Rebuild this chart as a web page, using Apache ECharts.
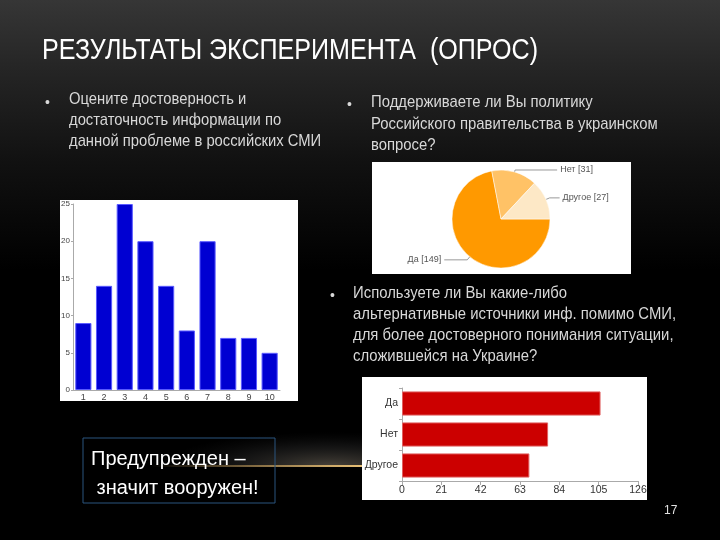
<!DOCTYPE html>
<html><head><meta charset="utf-8">
<script src="https://cdn.jsdelivr.net/npm/echarts@6/dist/echarts.min.js"></script>
<style>html,body{margin:0;padding:0;background:#000}#c{width:720px;height:540px}</style>
</head><body><div id="c"></div>
<script>
// Chart 1: rating 1..10
const ratingCats = ['1','2','3','4','5','6','7','8','9','10'];
const ratingVals = [9, 14, 25, 20, 14, 8, 20, 7, 7, 5];
// Chart 2: pie
const pieNames = ['Да', 'Нет', 'Другое'];
const pieVals = [149, 31, 27];
// Chart 3: horizontal bars
const altCats = ['Да', 'Нет', 'Другое'];
const altVals = [106, 78, 68];
const altTicks = [0, 21, 42, 63, 84, 105, 126];

const SANS = '"Liberation Sans", Arial, sans-serif';

const chart = echarts.init(document.getElementById('c'), null, {renderer: 'canvas'});

function txt(x, y, lines, size, color, lh, sx) {
  return {type: 'text', x: x, y: y, z: 5, scaleX: sx || 1, originX: 0,
    style: {text: lines.join('\n'), fill: color, font: size + 'px ' + SANS, lineHeight: lh, textVerticalAlign: 'top'}};
}

const graphics = [
  {type: 'rect', shape: {x: 0, y: 0, width: 720, height: 540}, z: -10,
   style: {fill: new echarts.graphic.LinearGradient(0, 0, 0, 1, [
     {offset: 0, color: '#363636'}, {offset: 0.12, color: '#262626'}, {offset: 0.3, color: '#111'}, {offset: 0.5, color: '#000'}, {offset: 1, color: '#000'}])}},
  // glow (flattened radial)
  {type: 'circle', shape: {cx: 330, cy: 466, r: 170}, scaleY: 0.2, originX: 330, originY: 466, z: -9,
   style: {fill: new echarts.graphic.RadialGradient(0.5, 0.5, 0.5, [
     {offset: 0, color: 'rgba(120,110,95,0.6)'}, {offset: 0.6, color: 'rgba(70,70,70,0.25)'}, {offset: 1, color: 'rgba(40,40,40,0)'}])}},
  {type: 'rect', shape: {x: 0, y: 467, width: 362, height: 73}, z: -8, style: {fill: '#000'}},
  {type: 'rect', shape: {x: 150, y: 465, width: 215, height: 2}, z: -7,
   style: {fill: new echarts.graphic.LinearGradient(0, 0, 1, 0, [
     {offset: 0, color: 'rgba(200,160,90,0)'}, {offset: 0.5, color: 'rgba(205,165,95,0.6)'}, {offset: 1, color: 'rgba(235,195,120,1)'}])}},
  // white panels
  {type: 'rect', shape: {x: 60, y: 200, width: 238, height: 201}, z: -5, style: {fill: '#fff'}},
  {type: 'rect', shape: {x: 372, y: 162, width: 259, height: 112}, z: -5, style: {fill: '#fff'}},
  {type: 'rect', shape: {x: 362, y: 377, width: 285, height: 123}, z: -5, style: {fill: '#fff'}},
  // title
  txt(42, 35, ['РЕЗУЛЬТАТЫ ЭКСПЕРИМЕНТА  (ОПРОС)'], 29, '#ffffff', 32, 0.865),
  // bullets
  txt(45, 93, ['•'], 14, '#d8d8d8', 21),
  txt(69, 89, ['Оцените достоверность и', 'достаточность информации по', 'данной проблеме в российских СМИ'], 17, '#d8d8d8', 21, 0.87),
  txt(347, 95, ['•'], 14, '#d8d8d8', 21),
  txt(371, 92, ['Поддерживаете ли Вы политику', 'Российского правительства в украинском', 'вопросе?'], 17, '#d8d8d8', 21.5, 0.875),
  txt(330, 286, ['•'], 14, '#d8d8d8', 21),
  txt(353, 283, ['Используете ли Вы какие-либо', 'альтернативные источники инф. помимо СМИ,', 'для более достоверного понимания ситуации,', 'сложившейся на Украине?'], 17, '#d8d8d8', 21, 0.875),
  // box
  {type: 'rect', shape: {x: 83, y: 438, width: 192, height: 65}, z: 4, style: {fill: 'rgba(0,0,0,0)', stroke: '#2b557f', lineWidth: 1}},
  txt(91, 445, ['Предупрежден –', ' значит вооружен!'], 20, '#ffffff', 29),
  txt(664, 504, ['17'], 12, '#e0e0e0', 14)
];

const option = {
  animation: false,
  backgroundColor: '#000',
  graphic: graphics,
  grid: [
    {left: 73, top: 204, width: 207, height: 186, containLabel: false},
    {left: 402, top: 388, width: 236, height: 93, containLabel: false}
  ],
  xAxis: [
    {type: 'category', gridIndex: 0, data: ratingCats,
     axisLine: {lineStyle: {color: '#aaa'}}, axisTick: {show: false},
     axisLabel: {fontSize: 9, color: '#444', margin: 3, fontFamily: SANS}},
    {type: 'value', gridIndex: 1, min: 0, max: 126, interval: 21,
     axisLine: {show: true, lineStyle: {color: '#aaa'}}, axisTick: {show: true, lineStyle: {color: '#aaa'}, length: 4},
     splitLine: {show: false},
     axisLabel: {fontSize: 10.5, color: '#333', margin: 4, fontFamily: SANS,
       formatter: v => altTicks.indexOf(v) >= 0 ? String(v) : ''}}
  ],
  yAxis: [
    {type: 'value', gridIndex: 0, min: 0, max: 25, interval: 5,
     axisLine: {show: true, lineStyle: {color: '#aaa'}}, axisTick: {show: true, length: 2, lineStyle: {color: '#aaa'}},
     splitLine: {show: false},
     axisLabel: {fontSize: 8, color: '#444', margin: 3, fontFamily: SANS}},
    {type: 'category', gridIndex: 1, data: altCats, inverse: true,
     axisLine: {show: true, lineStyle: {color: '#aaa'}}, axisTick: {show: true, lineStyle: {color: '#aaa'}, length: 3},
     axisLabel: {fontSize: 10.5, color: '#333', margin: 4, fontFamily: SANS}}
  ],
  series: [
    {type: 'bar', xAxisIndex: 0, yAxisIndex: 0, data: ratingVals, barCategoryGap: '22%',
     itemStyle: {color: '#0000d2', borderColor: '#5a5aff', borderWidth: 1}},
    {type: 'bar', xAxisIndex: 1, yAxisIndex: 1, data: altVals, barCategoryGap: '22%',
     itemStyle: {color: '#cc0000', borderColor: '#e06060', borderWidth: 1}},
    {type: 'pie', center: [501, 219], radius: 49, startAngle: 0, clockwise: true,
     avoidLabelOverlap: false,
     data: pieNames.map((n, i) => ({name: n, value: pieVals[i],
       labelLine: {length: [4, 2, 4][i], length2: [23, 42, 10][i]}})),
     color: ['#ff9900', '#ffc266', '#fde8c6'],
     itemStyle: {borderColor: '#fff', borderWidth: 0.5},
     label: {show: true, formatter: p => p.name + ' [' + p.value + ']', fontSize: 9, color: '#555', fontFamily: SANS, distanceToLabelLine: 3},
     labelLine: {show: true, lineStyle: {color: '#999', width: 1}}
    }
  ]
};
chart.setOption(option);
</script></body></html>
